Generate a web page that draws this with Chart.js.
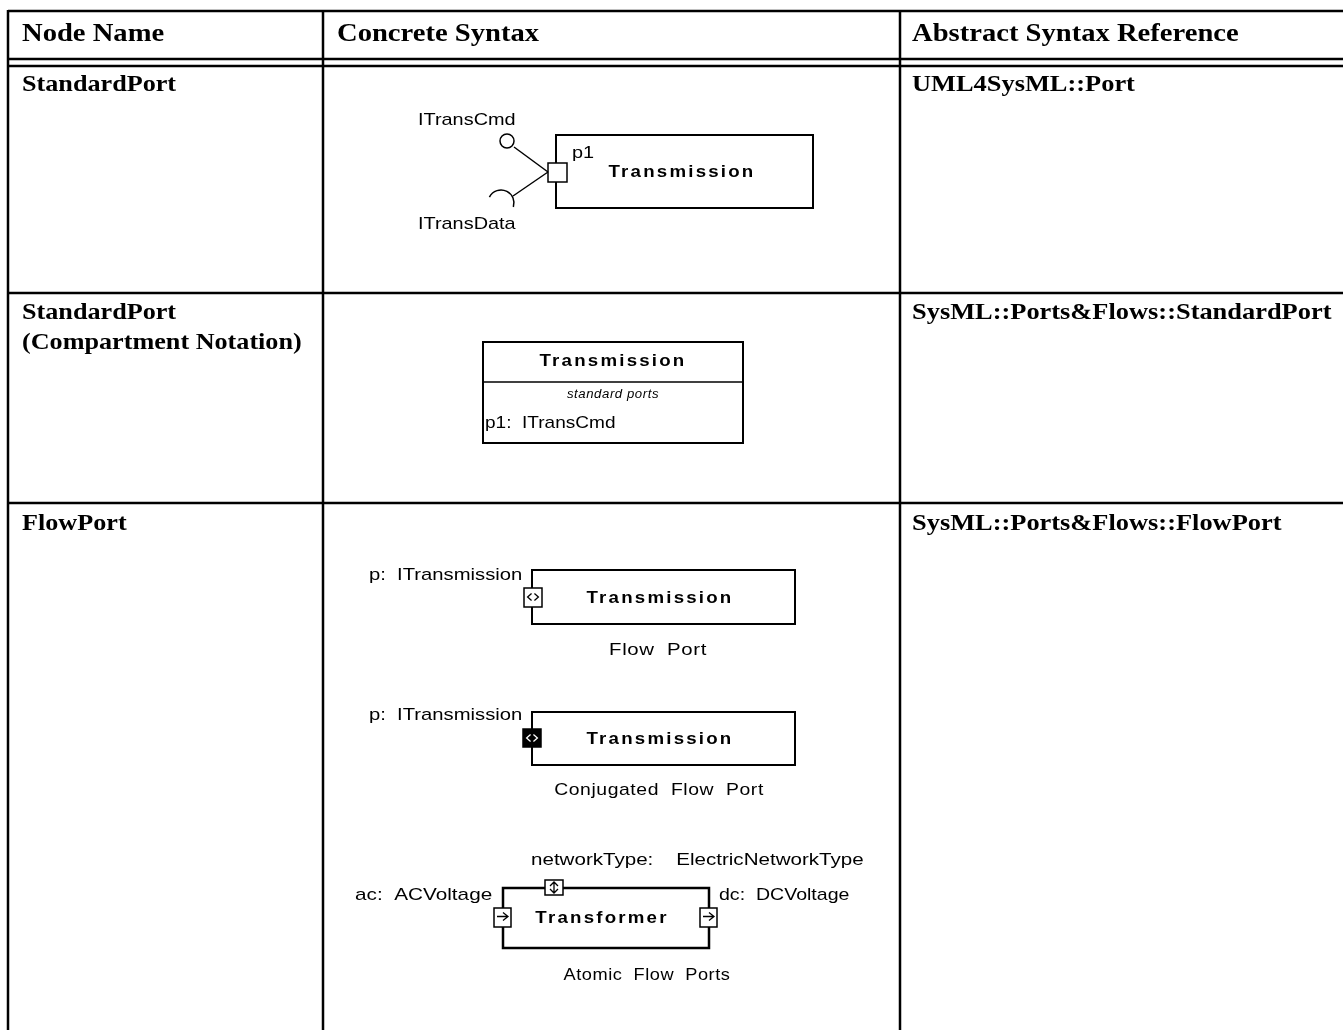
<!DOCTYPE html>
<html>
<head>
<meta charset="utf-8">
<script src="https://cdn.jsdelivr.net/npm/chart.js@4"></script>
<style>
  body { margin: 0; background: #fff; }
  #wrap { width: 1343px; height: 1030px; }
</style>
</head>
<body>
<div id="wrap"><canvas id="c"></canvas></div>
<script>
// table content
const columnHeaders = ['Node Name', 'Concrete Syntax', 'Abstract Syntax Reference'];
const nodeNames = [['StandardPort'], ['StandardPort', '(Compartment Notation)'], ['FlowPort']];
const abstractRefs = ['UML4SysML::Port', 'SysML::Ports&Flows::StandardPort', 'SysML::Ports&Flows::FlowPort'];

// diagram texts
const blockNames = ['Transmission', 'Transmission', 'Transmission', 'Transmission', 'Transformer'];
const interfaceNames = ['ITransCmd', 'ITransData'];
const portLabels = ['p1', 'p1:  ITransCmd', 'p:  ITransmission', 'p:  ITransmission'];
const compartmentTitle = 'standard ports';
const atomicPortLabels = ['networkType:    ElectricNetworkType', 'ac:  ACVoltage', 'dc:  DCVoltage'];
const captions = ['Flow  Port', 'Conjugated  Flow  Port', 'Atomic  Flow  Ports'];

const SANS = '"Liberation Sans", Arial, sans-serif';
const SERIF = '"Liberation Serif", "Times New Roman", serif';

const tablePlugin = {
  id: 'tableDraw',
  afterDraw(chart) {
    const ctx = chart.ctx;
    const sx = chart.scales.x, sy = chart.scales.y;
    const X = v => sx.getPixelForValue(v);
    const Y = v => sy.getPixelForValue(v);

    function line(x1, y1, x2, y2, w) {
      ctx.beginPath();
      ctx.lineWidth = w || 1;
      ctx.moveTo(X(x1), Y(y1));
      ctx.lineTo(X(x2), Y(y2));
      ctx.stroke();
    }
    function box(x, y, w, h, lw, fill) {
      ctx.lineWidth = lw || 1;
      if (fill) { ctx.fillStyle = fill; ctx.fillRect(X(x), Y(y), X(x + w) - X(x), Y(y + h) - Y(y)); }
      ctx.strokeRect(X(x), Y(y), X(x + w) - X(x), Y(y + h) - Y(y));
    }
    // text is a little stretched horizontally in the original
    function text(s, x, y, font, align, spacing, stretch) {
      ctx.save();
      ctx.font = font;
      ctx.textAlign = align || 'left';
      ctx.textBaseline = 'alphabetic';
      ctx.letterSpacing = (spacing || 0) + 'px';
      ctx.fillStyle = '#000';
      ctx.translate(X(x), Y(y));
      ctx.scale(stretch || 1, 1);
      ctx.fillText(s, 0, 0);
      ctx.restore();
    }
    function chevrons(x, y, s, color) {
      ctx.strokeStyle = color;
      ctx.lineWidth = 1.3;
      ctx.beginPath();
      ctx.moveTo(X(x + s * 0.42), Y(y + s * 0.3));
      ctx.lineTo(X(x + s * 0.2), Y(y + s * 0.5));
      ctx.lineTo(X(x + s * 0.42), Y(y + s * 0.7));
      ctx.moveTo(X(x + s * 0.58), Y(y + s * 0.3));
      ctx.lineTo(X(x + s * 0.8), Y(y + s * 0.5));
      ctx.lineTo(X(x + s * 0.58), Y(y + s * 0.7));
      ctx.stroke();
      ctx.strokeStyle = '#000';
    }
    function arrowRight(x, y, s) {
      ctx.lineWidth = 1.3;
      ctx.beginPath();
      ctx.moveTo(X(x + 3), Y(y + s / 2));
      ctx.lineTo(X(x + s - 3), Y(y + s / 2));
      ctx.moveTo(X(x + s - 8), Y(y + s / 2 - 4));
      ctx.lineTo(X(x + s - 3), Y(y + s / 2));
      ctx.lineTo(X(x + s - 8), Y(y + s / 2 + 4));
      ctx.stroke();
    }
    function arrowUpDown(x, y, w, h) {
      const cx = x + w / 2;
      ctx.lineWidth = 1.3;
      ctx.beginPath();
      ctx.moveTo(X(cx), Y(y + 2));
      ctx.lineTo(X(cx), Y(y + h - 2));
      ctx.moveTo(X(cx - 4), Y(y + 6)); ctx.lineTo(X(cx), Y(y + 2)); ctx.lineTo(X(cx + 4), Y(y + 6));
      ctx.moveTo(X(cx - 4), Y(y + h - 6)); ctx.lineTo(X(cx), Y(y + h - 2)); ctx.lineTo(X(cx + 4), Y(y + h - 6));
      ctx.stroke();
    }

    ctx.save();
    ctx.strokeStyle = '#000';
    ctx.fillStyle = '#000';

    // ---- table grid ----
    const colX = [8, 323, 900];
    const headerFont = 'bold 26px ' + SERIF;
    const cellFont = 'bold 24px ' + SERIF;
    line(8, 11, 1343, 11, 2.5);
    line(8, 59, 1343, 59, 2.5);
    line(8, 66, 1343, 66, 2.5);
    line(8, 293, 1343, 293, 2.5);
    line(8, 503, 1343, 503, 2.5);
    colX.forEach(x => line(x, 10, x, 1030, 2.5));

    const textX = [22, 337, 912];
    columnHeaders.forEach((h, i) => text(h, textX[i], 41, headerFont, 'left', 0, 1.1));
    const bases = [91, 319, 530];
    nodeNames.forEach((lines, r) => {
      lines.forEach((s, k) => text(s, textX[0], bases[r] + k * 30, cellFont, 'left', 0, 1.09));
    });
    abstractRefs.forEach((s, r) => text(s, textX[2], bases[r], cellFont, 'left', 0, 1.1));

    const f17 = '17px ' + SANS;
    const b17 = 'bold 17px ' + SANS;
    const ST = 1.17;

    // ---- row 1: standard port with interfaces ----
    box(556, 135, 257, 73, 2);
    box(548, 163, 19, 19, 1.5, '#fff');
    text(portLabels[0], 572, 158, f17, 'left', 0, ST);
    text(blockNames[0], 682, 177, b17, 'center', 2, 1.1);
    // provided interface (lollipop)
    line(548, 172, 514, 147, 1.5);
    ctx.beginPath(); ctx.lineWidth = 1.5;
    ctx.arc(X(507), Y(141), 7, 0, Math.PI * 2); ctx.stroke();
    // required interface (socket)
    line(548, 172, 513, 196, 1.5);
    ctx.beginPath(); ctx.lineWidth = 1.5;
    ctx.arc(X(501), Y(203), 13, Math.PI * 1.15, Math.PI * 2.1); ctx.stroke();
    text(interfaceNames[0], 418, 125, f17, 'left', 0, ST);
    text(interfaceNames[1], 418, 229, f17, 'left', 0, ST);

    // ---- row 2: compartment notation ----
    box(483, 342, 260, 101, 2);
    line(483, 382, 743, 382, 1.5);
    text(blockNames[1], 613, 366, b17, 'center', 2, 1.1);
    text(compartmentTitle, 613, 398, 'italic 12px ' + SANS, 'center', 0.5, 1.1);
    text(portLabels[1], 485, 428, f17, 'left', 0, 1.12);

    // ---- row 3: flow ports ----
    box(532, 570, 263, 54, 2);
    box(524, 588, 18, 19, 1.5, '#fff');
    chevrons(524, 588, 18, '#000');
    text(portLabels[2], 369, 580, f17, 'left', 0, 1.19);
    text(blockNames[2], 660, 603, b17, 'center', 2, 1.1);
    text(captions[0], 658, 655, f17, 'center', 0.5, 1.2);

    box(532, 712, 263, 53, 2);
    box(523, 729, 18, 18, 1.5, '#000');
    chevrons(523, 729, 18, '#fff');
    text(portLabels[3], 369, 720, f17, 'left', 0, 1.19);
    text(blockNames[3], 660, 744, b17, 'center', 2, 1.1);
    text(captions[1], 659, 795, f17, 'center', 0.5, 1.14);

    box(503, 888, 206, 60, 2.5);
    box(545, 880, 18, 15, 1.5, '#fff');
    arrowUpDown(545, 880, 18, 15);
    box(494, 908, 17, 19, 1.5, '#fff');
    arrowRight(494, 908, 17);
    box(700, 908, 17, 19, 1.5, '#fff');
    arrowRight(700, 908, 17);
    text(blockNames[4], 602, 923, b17, 'center', 2, 1.1);
    text(atomicPortLabels[0], 531, 865, f17, 'left', 0, 1.21);
    text(atomicPortLabels[1], 355, 900, f17, 'left', 0, 1.22);
    text(atomicPortLabels[2], 719, 900, f17, 'left', 0, 1.15);
    text(captions[2], 647, 980, f17, 'center', 0.5, 1.07);

    ctx.restore();
  }
};

new Chart(document.getElementById('c'), {
  type: 'scatter',
  data: { datasets: [] },
  options: {
    responsive: true,
    maintainAspectRatio: false,
    animation: false,
    layout: { padding: 0 },
    plugins: { legend: { display: false }, tooltip: { enabled: false } },
    scales: {
      x: { type: 'linear', min: 0, max: 1343, display: false },
      y: { type: 'linear', min: 0, max: 1030, reverse: true, display: false }
    }
  },
  plugins: [tablePlugin]
});
</script>
</body>
</html>
